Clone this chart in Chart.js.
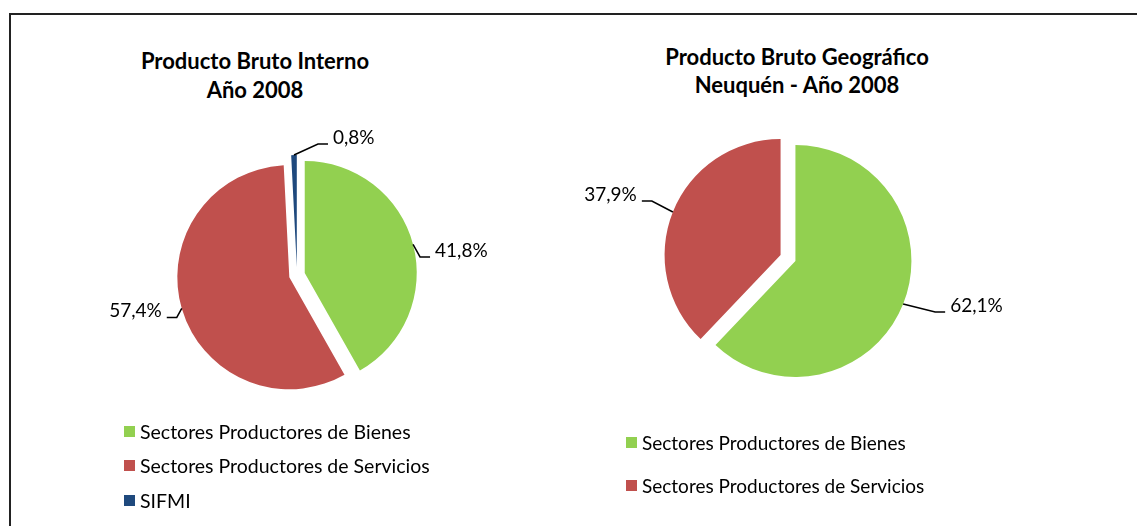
<!DOCTYPE html>
<html lang="es">
<head>
<meta charset="UTF-8">
<title>Producto Bruto 2008</title>
<script src="https://cdn.jsdelivr.net/npm/chart.js@4/dist/chart.umd.min.js"></script>
<style>
  html, body { margin: 0; padding: 0; background: #fff; }
  body { width: 1137px; height: 526px; position: relative; overflow: hidden; font-family: Lato, "Open Sans", sans-serif; color: #000; }
  .frame { position: absolute; left: 9px; top: 13px; right: 0; bottom: 0; border-top: 2px solid #222; border-left: 2px solid #222; }
  canvas { position: absolute; top: 0; }
  .title { position: absolute; text-align: center; font-weight: bold; white-space: nowrap; }
  .legend { position: absolute; }
  .legend .row { display: flex; align-items: center; white-space: nowrap; }
  .legend .box { width: 11px; height: 11px; margin-right: 5px; flex: none; }
</style>
</head>
<body>
<div class="frame"></div>
<div class="title" id="title1" style="left:55px; width:400px; top:46px; font-size:22px; line-height:29px;"></div>
<div class="title" id="title2" style="left:597px; width:400px; top:43px; font-size:22px; line-height:28px;"></div>
<canvas id="pbi" width="560" height="526" style="left:0"></canvas>
<canvas id="pbg" width="577" height="526" style="left:560px"></canvas>
<div class="legend" id="legend1" style="left:124px; top:414px; font-size:19.5px;"></div>
<div class="legend" id="legend2" style="left:626px; top:421px; font-size:19px;"></div>

<script>
// PBI nacional 2008 (%)
const categoriesPBI = ["Sectores Productores de Bienes", "Sectores Productores de Servicios", "SIFMI"];
const valuesPBI = [41.8, 57.4, 0.8];
const titlePBI = ["Producto Bruto Interno", "Año 2008"];

// PBG Neuquén 2008 (%)
const categoriesPBG = ["Sectores Productores de Bienes", "Sectores Productores de Servicios"];
const valuesPBG = [62.1, 37.9];
const titlePBG = ["Producto Bruto Geográfico", "Neuquén - Año 2008"];

const COLORS = ["#92D050", "#C0504D", "#1F497D"];

// draws every slice pushed out along its middle angle (Excel style explosion)
const explodePlugin = {
  id: 'explode',
  beforeDatasetDraw(chart, args, opts) {
    const ctx = chart.ctx;
    args.meta.data.forEach((arc) => {
      const mid = (arc.startAngle + arc.endAngle) / 2;
      ctx.save();
      ctx.translate(Math.cos(mid) * opts.distance, Math.sin(mid) * opts.distance);
      arc.draw(ctx);
      ctx.restore();
    });
    return false;
  }
};

// outside labels with leader lines
const leaderLabelsPlugin = {
  id: 'leaderLabels',
  afterDatasetsDraw(chart, args, opts) {
    const ctx = chart.ctx;
    const meta = chart.getDatasetMeta(0);
    const values = chart.data.datasets[0].data;
    const explode = chart.options.plugins.explode.distance;
    ctx.save();
    ctx.font = opts.font;
    ctx.strokeStyle = '#000';
    ctx.fillStyle = '#000';
    ctx.lineWidth = 1.5;
    ctx.textBaseline = 'alphabetic';
    meta.data.forEach((arc, i) => {
      const mid = (arc.startAngle + arc.endAngle) / 2;
      const r = arc.outerRadius + explode;
      const sx = arc.x + Math.cos(mid) * r;
      const sy = arc.y + Math.sin(mid) * r;
      const [dx, dy] = opts.offsets[i];
      const ex = sx + dx, ey = sy + dy;
      const dir = dx >= 0 ? 1 : -1;
      ctx.beginPath();
      ctx.moveTo(sx, sy);
      ctx.lineTo(ex - dir * opts.elbow, ey);
      ctx.lineTo(ex, ey);
      ctx.stroke();
      const text = values[i].toFixed(1).replace('.', ',') + '%';
      ctx.textAlign = dir > 0 ? 'left' : 'right';
      ctx.fillText(text, ex + dir * opts.gap, ey);
    });
    ctx.restore();
  }
};

function makePie(id, labels, values, o) {
  return new Chart(document.getElementById(id), {
    type: 'pie',
    data: {
      labels: labels,
      datasets: [{
        data: values,
        backgroundColor: COLORS.slice(0, values.length),
        borderWidth: 0,
        radius: o.radius
      }]
    },
    options: {
      responsive: false,
      animation: false,
      devicePixelRatio: 1,
      layout: { padding: o.padding },
      plugins: {
        legend: { display: false },
        tooltip: { enabled: false },
        explode: { distance: 8 },
        leaderLabels: { font: '19px Lato', offsets: o.labelOffsets, elbow: 10, gap: 5 }
      }
    },
    plugins: [explodePlugin, leaderLabelsPlugin]
  });
}

function fillTitle(id, lines) {
  document.getElementById(id).innerHTML = lines.map((l) => '<div>' + l + '</div>').join('');
}

function buildLegend(id, labels, rowHeight) {
  const el = document.getElementById(id);
  labels.forEach((label, i) => {
    const row = document.createElement('div');
    row.className = 'row';
    row.style.height = rowHeight + 'px';
    const box = document.createElement('span');
    box.className = 'box';
    box.style.background = COLORS[i];
    const txt = document.createElement('span');
    txt.textContent = label;
    row.append(box, txt);
    el.appendChild(row);
  });
}

fillTitle('title1', titlePBI);
fillTitle('title2', titlePBG);
buildLegend('legend1', categoriesPBI, 34.5);
buildLegend('legend2', categoriesPBG, 43);

makePie('pbi', categoriesPBI, valuesPBI, {
  radius: 112,
  padding: { left: 34, right: 0, top: 24, bottom: 0 },
  labelOffsets: [[17, 12.5], [-15, 9], [34, -11]]
});

makePie('pbg', categoriesPBG, valuesPBG, {
  radius: 116,
  padding: { left: 0, right: 121, top: 0, bottom: 10 },
  labelOffsets: [[42, 8], [-31, -11]]
});
</script>
</body>
</html>
